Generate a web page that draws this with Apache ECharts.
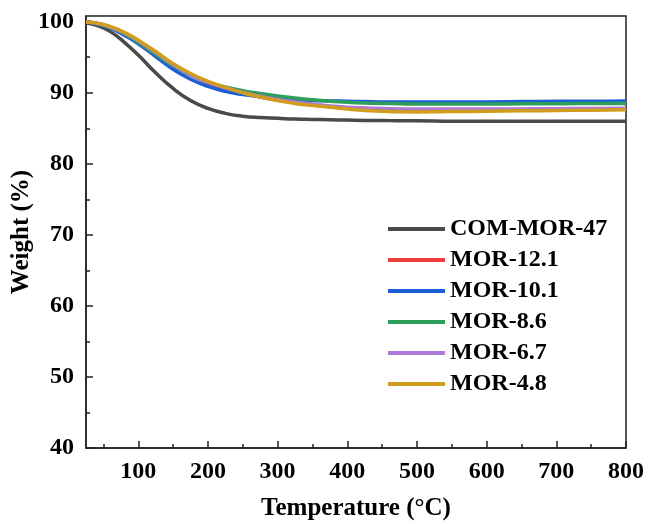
<!DOCTYPE html>
<html>
<head>
<meta charset="utf-8">
<script src="https://cdn.jsdelivr.net/npm/echarts@6/dist/echarts.min.js"></script>
<style>html,body{margin:0;padding:0;background:#fff}#c{width:648px;height:524px}</style>
</head>
<body>
<div id="c"></div>
<script>
var temps = [25, 40, 60, 80, 100, 125, 150, 175, 200, 225, 250, 275, 300, 325, 350, 375, 400, 425, 450, 475, 500, 550, 600, 650, 700, 750, 800];
var comMor47 = [99.8, 99.5, 98.6, 97.1, 95.3, 92.8, 90.6, 88.9, 87.8, 87.1, 86.7, 86.5, 86.4, 86.3, 86.25, 86.2, 86.15, 86.1, 86.1, 86.05, 86.05, 86.0, 86.0, 86.0, 86.0, 86.0, 86.0];
var mor121 = [99.95, 99.78, 99.25, 98.4, 97.25, 95.6, 93.9, 92.5, 91.4, 90.6, 89.95, 89.4, 88.95, 88.6, 88.3, 88.05, 87.9, 87.8, 87.7, 87.65, 87.6, 87.6, 87.6, 87.65, 87.7, 87.7, 87.75];
var mor101 = [99.95, 99.7, 99.1, 98.1, 96.9, 95.1, 93.3, 91.9, 90.9, 90.2, 89.75, 89.45, 89.2, 89.0, 88.9, 88.85, 88.8, 88.75, 88.7, 88.7, 88.7, 88.7, 88.7, 88.75, 88.8, 88.8, 88.85];
var mor86 = [99.95, 99.75, 99.2, 98.3, 97.1, 95.4, 93.8, 92.5, 91.5, 90.8, 90.3, 89.9, 89.55, 89.25, 89.0, 88.8, 88.65, 88.55, 88.5, 88.45, 88.4, 88.4, 88.4, 88.45, 88.45, 88.5, 88.5];
var mor67 = [99.95, 99.78, 99.25, 98.42, 97.3, 95.65, 93.95, 92.55, 91.5, 90.7, 90.05, 89.5, 89.05, 88.7, 88.4, 88.15, 87.95, 87.85, 87.78, 87.72, 87.7, 87.7, 87.7, 87.72, 87.75, 87.78, 87.8];
var mor48 = [99.95, 99.8, 99.3, 98.5, 97.4, 95.8, 94.1, 92.7, 91.6, 90.75, 90.0, 89.4, 88.9, 88.5, 88.2, 87.95, 87.7, 87.5, 87.4, 87.32, 87.3, 87.35, 87.4, 87.45, 87.5, 87.55, 87.6];

var seriesNames = ['COM-MOR-47', 'MOR-12.1', 'MOR-10.1', 'MOR-8.6', 'MOR-6.7', 'MOR-4.8'];
var seriesValues = [comMor47, mor121, mor101, mor86, mor67, mor48];
var colors = ['#4a4a4a', '#ee3b3b', '#1c5fd4', '#2e9e5b', '#ad7ad8', '#d09e1c'];

var xTickLabels = [100, 200, 300, 400, 500, 600, 700, 800];
var xMinorTicks = [50, 150, 250, 350, 450, 550, 650, 750];
var yTickLabels = [40, 50, 60, 70, 80, 90, 100];
var yMinorTicks = [45, 55, 65, 75, 85, 95];

var fontFam = '"Liberation Serif", "Times New Roman", serif';

function pairs(vals) {
  return temps.map(function (t, i) { return [t, vals[i]]; });
}

var series = seriesNames.map(function (n, i) {
  return {
    name: n, type: 'line', xAxisIndex: 0, yAxisIndex: 0,
    data: pairs(seriesValues[i]), smooth: true, showSymbol: false, symbol: 'none',
    lineStyle: { color: colors[i], width: 3.5 }, itemStyle: { color: colors[i] }
  };
});

var chart = echarts.init(document.getElementById('c'), null, { renderer: 'canvas' });
chart.setOption({
  animation: false,
  backgroundColor: '#fff',
  grid: { left: 86, right: 22, top: 16, bottom: 76, containLabel: false, outerBoundsMode: 'none', show: true, borderColor: '#222', borderWidth: 1.5, backgroundColor: 'transparent' },
  legend: {
    orient: 'vertical', left: 383, top: 212, icon: 'rect', itemWidth: 57, itemHeight: 4, itemGap: 7,
    data: seriesNames,
    textStyle: { fontFamily: fontFam, fontWeight: 'bold', fontSize: 24, color: '#000', lineHeight: 24 }
  },
  xAxis: [{
    type: 'value', min: 25, max: 800,
    name: 'Temperature (\u00B0C)', nameLocation: 'middle', nameGap: 48,
    nameTextStyle: { fontFamily: fontFam, fontWeight: 'bold', fontSize: 25, color: '#000' },
    axisLine: { show: true, lineStyle: { color: '#222', width: 1.5 } },
    axisTick: { show: true, inside: true, length: 7, customValues: xTickLabels, lineStyle: { color: '#222', width: 1.5 } },
    axisLabel: { customValues: xTickLabels, margin: 12, fontFamily: fontFam, fontWeight: 'bold', fontSize: 24, color: '#000' },
    splitLine: { show: false }
  }, {
    type: 'value', min: 25, max: 800, position: 'bottom',
    axisLine: { show: false },
    axisTick: { show: true, inside: true, length: 4, customValues: xMinorTicks, lineStyle: { color: '#222', width: 1.5 } },
    axisLabel: { show: false },
    splitLine: { show: false }
  }],
  yAxis: [{
    type: 'value', min: 40, max: 100.8,
    name: 'Weight (%)', nameLocation: 'middle', nameGap: 52, nameMoveOverlap: false,
    nameTextStyle: { fontFamily: fontFam, fontWeight: 'bold', fontSize: 25, color: '#000' },
    axisLine: { show: true, lineStyle: { color: '#222', width: 1.5 } },
    axisTick: { show: true, inside: true, length: 7, customValues: yTickLabels, lineStyle: { color: '#222', width: 1.5 } },
    axisLabel: { customValues: yTickLabels, margin: 12, fontFamily: fontFam, fontWeight: 'bold', fontSize: 24, color: '#000' },
    splitLine: { show: false }
  }, {
    type: 'value', min: 40, max: 100.8, position: 'left',
    axisLine: { show: false },
    axisTick: { show: true, inside: true, length: 4, customValues: yMinorTicks, lineStyle: { color: '#222', width: 1.5 } },
    axisLabel: { show: false },
    splitLine: { show: false }
  }],
  series: series
});
</script>
</body>
</html>
